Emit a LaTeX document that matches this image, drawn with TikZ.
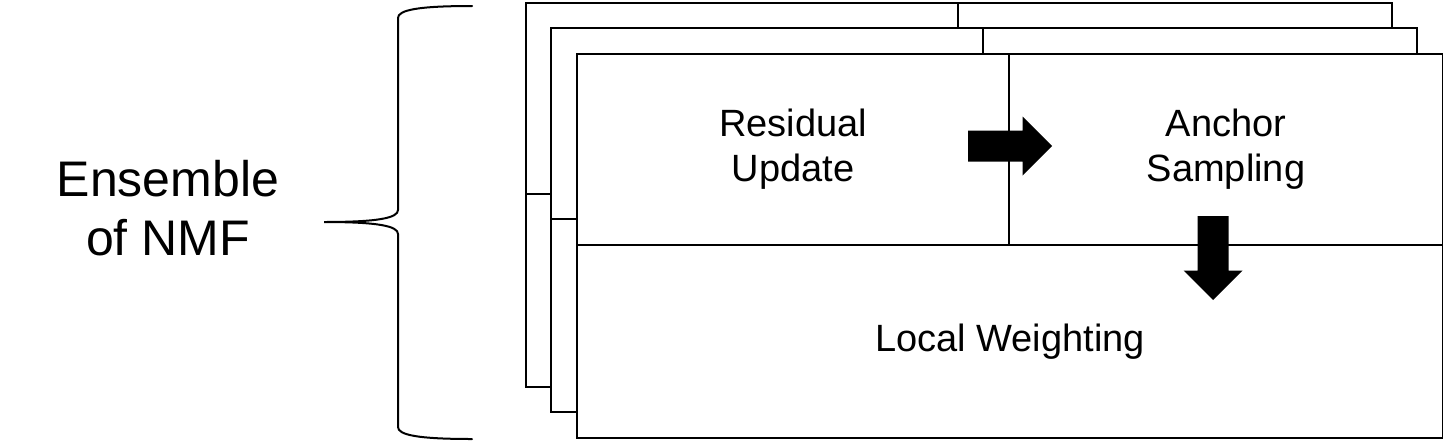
\documentclass[tikz,border=0pt]{standalone}
\usepackage{fontspec}
\setmainfont{Liberation Sans}
\usetikzlibrary{shapes.arrows}

\begin{document}
\begin{tikzpicture}[x=1pt, y=-1pt, line width=2pt,
    box/.style={draw, fill=white, rectangle, inner sep=0pt, align=center,
        anchor=north west, font=\fontsize{38}{45}\selectfont},
    block/.style={single arrow, fill=black, draw=none, inner xsep=0pt, anchor=tail,
        inner ysep=14.5pt, single arrow head extend=14pt, minimum height=84pt}]
    \useasboundingbox (0,0) rectangle (1443,440);

    % copies stacked behind
    \foreach \k in {2,1} {
        \begin{scope}[shift={(-25*\k,-25*\k)}]
            \draw[fill=white] (576,53) rectangle (1442,437);
            \draw (1008,53) -- (1008,244);
            \draw (576,244) -- (1442,244);
        \end{scope}
    }

    \node[box, minimum width=432pt, minimum height=191pt](resid) at (576,53) {Residual\\Update};
    \node[box, minimum width=434pt, minimum height=191pt](anchor) at (1008,53) {Anchor\\Sampling};
    \node[box, minimum width=866pt, minimum height=193pt](local) at (576,244) {Local Weighting};

    \node[block](next)            at (967,146) {};
    \node[block, rotate=-90](down) at (1213,215) {};

    % brace
    \draw[line cap=round] (472,6) .. controls (418,6) and (398,10) .. (398,18)
        -- (398,210) .. controls (398,218) and (378,222) .. (324,222)
        .. controls (378,222) and (398,226) .. (398,234)
        -- (398,427) .. controls (398,435) and (418,439) .. (472,439);

    \node[align=center, font=\fontsize{50}{59}\selectfont](ensemble) at (168,208) {Ensemble\\of NMF};
\end{tikzpicture}
\end{document}
